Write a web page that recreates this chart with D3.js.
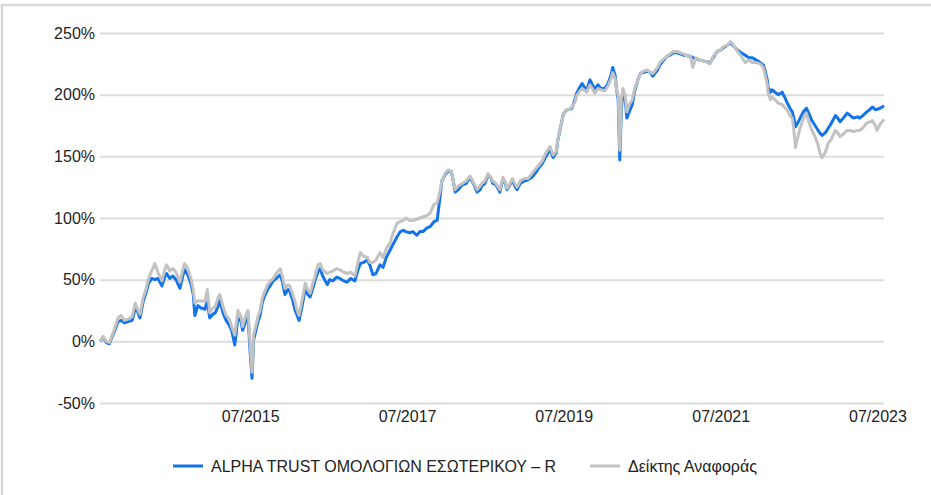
<!DOCTYPE html>
<html>
<head>
<meta charset="utf-8">
<script src="https://cdn.jsdelivr.net/npm/d3@7/dist/d3.min.js"></script>
<style>
  html, body { margin: 0; padding: 0; background: #ffffff; }
  svg { display: block; }
  text { font-family: Arial, "Liberation Sans", sans-serif; fill: #222222; }
</style>
</head>
<body>
<svg id="chart" width="931" height="495"></svg>
<script>
// ---- DATA (dates as decimal years, values in % cumulative return) ----
const seriesNames = ["ALPHA TRUST ΟΜΟΛΟΓΙΩΝ ΕΣΩΤΕΡΙΚΟΥ – R", "Δείκτης Αναφοράς"];
const times = [
  2013.58,2013.62,2013.66,2013.70,2013.73,2013.77,2013.81,2013.85,2013.89,2013.94,2013.99,
  2014.03,2014.06,2014.09,2014.13,2014.17,2014.20,2014.24,2014.28,2014.32,2014.37,2014.41,2014.43,2014.47,2014.51,2014.55,2014.60,2014.64,2014.66,2014.70,2014.74,2014.77,2014.79,2014.83,2014.87,2014.92,2014.95,2014.98,
  2015.02,2015.05,2015.09,2015.11,2015.15,2015.19,2015.23,2015.26,2015.30,2015.34,2015.38,2015.40,2015.44,2015.47,2015.49,2015.52,2015.54,2015.57,2015.60,2015.62,2015.65,2015.68,2015.72,2015.76,2015.79,2015.83,2015.88,2015.91,2015.94,2015.98,
  2016.00,2016.04,2016.07,2016.09,2016.12,2016.16,2016.20,2016.23,2016.26,2016.30,2016.32,2016.36,2016.39,2016.42,2016.48,2016.51,2016.55,2016.60,2016.64,2016.69,2016.73,2016.78,2016.83,2016.87,2016.90,2016.94,2016.99,
  2017.02,2017.06,2017.10,2017.15,2017.19,2017.23,2017.28,2017.32,2017.37,2017.41,2017.45,2017.48,2017.53,2017.57,2017.62,2017.66,2017.70,2017.75,2017.79,2017.84,2017.88,2017.92,2017.94,2017.98,
  2018.02,2018.06,2018.08,2018.11,2018.15,2018.20,2018.25,2018.30,2018.35,2018.39,2018.43,2018.45,2018.49,2018.53,2018.57,2018.59,2018.63,2018.68,2018.72,2018.75,2018.77,2018.81,2018.84,2018.87,2018.90,2018.94,2018.99,
  2019.04,2019.09,2019.14,2019.18,2019.22,2019.26,2019.28,2019.32,2019.36,2019.40,2019.42,2019.46,2019.49,2019.52,2019.56,2019.60,2019.64,2019.66,2019.70,2019.73,2019.77,2019.79,2019.83,2019.87,2019.89,2019.93,2019.97,
  2020.02,2020.06,2020.10,2020.12,2020.15,2020.17,2020.19,2020.20,2020.21,2020.23,2020.25,2020.28,2020.30,2020.33,2020.37,2020.40,2020.44,2020.47,2020.51,2020.56,2020.60,2020.63,2020.69,2020.72,2020.77,2020.81,2020.85,2020.89,2020.94,2020.98,
  2021.02,2021.05,2021.11,2021.14,2021.18,2021.23,2021.30,2021.36,2021.40,2021.45,2021.49,2021.53,2021.58,2021.62,2021.65,2021.71,2021.76,2021.81,2021.85,2021.90,2021.95,
  2022.00,2022.04,2022.06,2022.09,2022.10,2022.13,2022.15,2022.19,2022.23,2022.28,2022.32,2022.34,2022.38,2022.41,2022.43,2022.45,2022.47,2022.51,2022.55,2022.59,2022.62,2022.66,2022.70,2022.74,2022.76,2022.79,2022.83,2022.87,2022.90,2022.96,2022.99,
  2023.02,2023.06,2023.11,2023.15,2023.19,2023.24,2023.27,2023.31,2023.36,2023.40,2023.43,2023.47,2023.49,2023.53,2023.58
];
const fundValues = [
  0,3,-1,-2,3,9,16,17,15,16,17,
  27,24,19,32,40,47,51,50,51,45,53,55,51,53,50,43,54,58,54,47,38,21,29,27,26,33,19,
  22,23,29,33,23,17,13,9,-3,19,16,9,16,21,-3,-30,1,9,17,20,31,37,42,46,49,51,54,48,38,42,
  41,33,25,22,17,29,43,38,36,44,49,56,59,53,46,50,49,52,51,49,48,51,49,58,63,64,66,
  62,54,55,62,60,68,74,79,85,89,90,89,88,89,86,89,89,92,93,97,98,119,130,135,
  138,138,132,121,123,127,128,133,127,121,123,126,128,135,132,128,127,121,132,128,123,127,131,126,123,128,130,
  131,133,137,141,144,149,151,156,149,153,163,175,184,187,188,189,196,201,206,209,205,204,212,207,204,208,205,
  205,209,216,222,216,204,196,171,147,188,202,196,181,186,192,203,212,217,218,219,218,215,220,224,228,231,232,234,234,233,
  232,232,231,230,229,228,227,226,230,235,236,238,240,242,240,236,234,232,230,230,228,
  226,224,220,212,206,202,204,202,200,202,197,194,189,186,181,174,176,181,186,189,185,179,175,171,169,167,169,173,176,183,181,
  178,181,185,183,181,182,181,183,186,188,190,188,188,189,191
];
const benchValues = [
  0,4,0,-1,4,11,19,21,17,18,20,
  31,26,22,35,43,51,57,63,56,49,59,62,57,59,56,48,59,63,59,51,42,31,33,33,32,42,23,
  27,28,36,38,28,21,18,12,5,25,20,12,21,25,3,-25,5,13,21,24,35,40,46,49,51,55,59,52,43,46,
  45,38,32,26,21,34,47,42,39,48,52,62,63,58,55,56,57,59,58,56,55,56,53,64,72,69,68,
  64,64,66,72,68,75,80,88,96,97,98,100,98,98,99,100,101,102,104,111,112,123,130,136,
  139,138,132,123,126,128,130,134,128,123,126,128,130,136,132,130,128,123,133,129,124,128,132,128,125,130,132,
  132,136,140,143,146,152,154,158,151,154,164,175,184,187,188,190,194,199,203,205,203,202,208,204,201,205,204,
  203,207,213,218,213,204,199,179,155,196,205,199,186,192,196,205,212,217,219,220,218,217,222,226,229,231,233,235,235,234,
  233,232,231,222,230,228,227,225,231,235,236,239,240,243,241,235,231,226,228,226,226,
  225,222,217,208,202,196,198,196,193,192,189,188,183,181,171,157,163,173,181,185,178,171,166,159,153,149,153,161,163,171,169,
  166,168,171,171,170,171,171,173,177,178,179,175,171,176,180
];
const yTicks = [-50, 0, 50, 100, 150, 200, 250];
const xTickLabels = ["07/2015", "07/2017", "07/2019", "07/2021", "07/2023"];
const xTickDates = [2015.5, 2017.5, 2019.5, 2021.5, 2023.5];
const colors = ["#1273eb", "#c2c2c2"];

(function () {
  function decToDate(t) {
    const yr = Math.floor(t);
    const start = Date.UTC(yr, 0, 1), end = Date.UTC(yr + 1, 0, 1);
    return new Date(start + (t - yr) * (end - start));
  }
  const tickDate = t => new Date(Date.UTC(Math.floor(t), 6, 1));

  const svg = d3.select("#chart");

  // frame
  svg.append("rect")
    .attr("x", 2).attr("y", 5).attr("width", 960).attr("height", 520)
    .attr("fill", "none").attr("stroke", "#d7d7d7").attr("stroke-width", 2.5);

  const mLeft = 100, mRight = 884, mTop = 33, mBottom = 403;
  const x = d3.scaleUtc()
    .domain([decToDate(times[0]), decToDate(times[times.length - 1])])
    .range([mLeft, mRight]);
  const y = d3.scaleLinear().domain([-50, 250]).range([mBottom, mTop]);

  // grid + y labels
  const yAxis = d3.axisLeft(y).tickValues(yTicks).tickSize(-(mRight - mLeft)).tickPadding(6)
    .tickFormat(d => d + "%");
  const gy = svg.append("g").attr("transform", `translate(${mLeft},0)`).call(yAxis);
  gy.select(".domain").remove();
  gy.selectAll(".tick line").attr("stroke", "#dcdcdc").attr("stroke-width", 2);
  gy.selectAll(".tick text").attr("font-size", 16).attr("fill", "#222")
    .attr("font-family", "Arial, 'Liberation Sans', sans-serif").attr("x", -5);

  // x labels
  const xAxis = d3.axisBottom(x).tickValues(xTickDates.map(tickDate)).tickSize(0).tickPadding(0)
    .tickFormat((d, i) => xTickLabels[i]);
  const gx = svg.append("g").attr("transform", `translate(0,${mBottom + 5})`).call(xAxis);
  gx.select(".domain").remove();
  gx.selectAll(".tick text").attr("font-size", 16).attr("fill", "#222")
    .attr("font-family", "Arial, 'Liberation Sans', sans-serif").attr("dy", "0.85em");

  // lines
  const data = times.map((t, i) => ({ d: decToDate(t), f: fundValues[i], b: benchValues[i] }));
  const lineF = d3.line().x(p => x(p.d)).y(p => y(p.f));
  const lineB = d3.line().x(p => x(p.d)).y(p => y(p.b));
  svg.append("path").datum(data).attr("d", lineF).attr("fill", "none")
    .attr("stroke", colors[0]).attr("stroke-width", 3).attr("stroke-linejoin", "round");
  svg.append("path").datum(data).attr("d", lineB).attr("fill", "none")
    .attr("stroke", colors[1]).attr("stroke-width", 3).attr("stroke-linejoin", "round");

  // legend
  const legend = [
    { name: seriesNames[0], color: colors[0], x: 173 },
    { name: seriesNames[1], color: colors[1], x: 590 }
  ];
  const lg = svg.append("g");
  legend.forEach(l => {
    lg.append("line").attr("x1", l.x).attr("x2", l.x + 30).attr("y1", 466).attr("y2", 466)
      .attr("stroke", l.color).attr("stroke-width", 3);
    lg.append("text").attr("x", l.x + 38).attr("y", 466).attr("dy", "0.35em")
      .attr("font-size", 16).text(l.name);
  });
})();
</script>
</body>
</html>
